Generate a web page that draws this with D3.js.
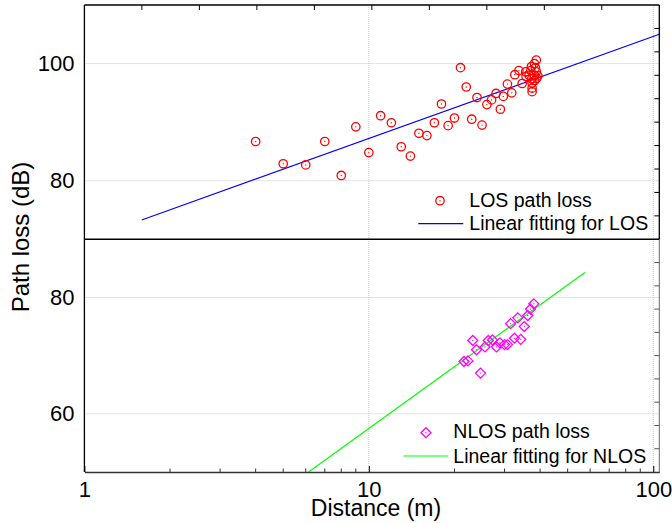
<!DOCTYPE html>
<html>
<head>
<meta charset="utf-8">
<script src="https://cdn.jsdelivr.net/npm/d3@7"></script>
<style>
  body { margin: 0; background: #fff; }
  text { font-family: "Liberation Sans", Arial, sans-serif; fill: #000; }
</style>
</head>
<body>
<div class="chart"></div>
<script>
// LOS measurements (distance m, path loss dB)
var losDist = [4, 5, 6, 7, 8, 9, 10, 11, 12, 13, 14, 15, 16, 17, 18, 19, 20, 21, 22, 23, 24, 25,
               26, 27, 28, 29, 29.7, 30.7, 31.8, 32.6, 33.7, 34.6, 35.6,
               35.7, 36.6, 37.3, 37.1, 37.4, 37.5, 37.5, 37.5, 38.2, 38.5, 38.8, 38.8, 38.2, 39.3, 38.9, 38.3];
var losLoss = [86.7, 82.9, 82.7, 86.7, 80.9, 89.2, 84.8, 91.1, 89.9, 85.8, 84.2, 88.1, 87.7, 89.9, 93.1, 89.4, 90.7, 99.3, 96.0, 90.5, 94.2, 89.5,
               93.0, 93.8, 94.9, 92.2, 94.4, 96.5, 95.0, 98.1, 98.8, 96.6, 98.6,
               97.8, 98.0, 99.5, 98.8, 97.4, 96.7, 95.8, 95.2, 100.0, 99.3, 100.6, 98.6, 98.0, 97.9, 97.5, 97.1];

// NLOS measurements
var nlosDist = [38.0, 37.0, 36.2, 33.4, 31.5, 35.2, 23.2, 32.5, 34.2, 26.3, 27.2, 28.9, 30.0, 30.7, 28.1, 25.6, 23.9, 21.6, 22.3, 24.7];
var nlosLoss = [78.9, 78.0, 76.9, 76.5, 75.5, 75.0, 72.6, 73.0, 72.8, 72.6, 72.7, 72.2, 71.9, 71.9, 71.5, 71.5, 71.0, 69.0, 69.1, 67.0];

// fitted lines, end points
var losFitDist = [1.59, 105];
var losFitLoss = [73.3, 105.0];
var nlosFitDist = [6.14, 57.5];
var nlosFitLoss = [50.0, 84.3];

var xTicks = [1, 10, 100];
var topTicks = [80, 100];
var botTicks = [60, 80];

var W = 672, H = 523;
var pL = 84.4, pR = 659.3, pT = 5, pM = 239.3, pB = 472;

var svg = d3.select(".chart").append("svg")
    .attr("width", W)
    .attr("height", H);

svg.append("rect").attr("width", W).attr("height", H).attr("fill", "#fff");

var x = d3.scaleLog().domain([1, 105]).range([pL, pR]);
var yTop = d3.scaleLinear().domain([70, 110]).range([pM, pT]);
var yBot = d3.scaleLinear().domain([50, 90]).range([pB, pM]);

svg.append("clipPath").attr("id", "clipTop")
    .append("rect").attr("x", pL).attr("y", pT).attr("width", pR - pL).attr("height", pM - pT);
svg.append("clipPath").attr("id", "clipBot")
    .append("rect").attr("x", pL).attr("y", pM).attr("width", pR - pL).attr("height", pB - pM);

var grid = svg.append("g")
    .attr("stroke", "#c8c8c8")
    .attr("stroke-width", 1)
    .attr("stroke-dasharray", "1,1");

grid.selectAll(".vg")
    .data([10, 100])
    .join("line")
    .attr("x1", d => x(d)).attr("x2", d => x(d))
    .attr("y1", pT).attr("y2", pB);

grid.selectAll(".hgt")
    .data(topTicks)
    .join("line")
    .attr("class", "hgt")
    .attr("x1", pL).attr("x2", pR)
    .attr("y1", d => yTop(d)).attr("y2", d => yTop(d));

grid.selectAll(".hgb")
    .data(botTicks)
    .join("line")
    .attr("class", "hgb")
    .attr("x1", pL).attr("x2", pR)
    .attr("y1", d => yBot(d)).attr("y2", d => yBot(d));

// ticks along the top and right edges (10 even divisions, as drawn by Origin)
var topEdge = d3.scaleLinear().domain([0, 10]).range([pL, pR]);
var edgeTicks = svg.append("g").attr("stroke", "#000").attr("stroke-width", 1);
edgeTicks.selectAll(".tt")
    .data(d3.range(1, 10))
    .join("line")
    .attr("class", "tt")
    .attr("x1", d => topEdge(d)).attr("x2", d => topEdge(d))
    .attr("y1", pT).attr("y2", pT + 5);
edgeTicks.selectAll(".rt")
    .data(d3.range(74, 110, 4))
    .join("line")
    .attr("class", "rt")
    .attr("x1", pR - 5).attr("x2", pR)
    .attr("y1", d => yTop(d)).attr("y2", d => yTop(d));
edgeTicks.selectAll(".rb")
    .data(d3.range(54, 90, 4))
    .join("line")
    .attr("class", "rb")
    .attr("stroke", "#555")
    .attr("x1", pR - 5).attr("x2", pR)
    .attr("y1", d => yBot(d)).attr("y2", d => yBot(d));

// fit lines
var line = d3.line();
svg.append("path")
    .attr("clip-path", "url(#clipTop)")
    .attr("d", line(losFitDist.map((d, i) => [x(d), yTop(losFitLoss[i])])))
    .attr("fill", "none")
    .attr("stroke", "#0000ff")
    .attr("stroke-width", 1.2);

svg.append("path")
    .attr("clip-path", "url(#clipBot)")
    .attr("d", line(nlosFitDist.map((d, i) => [x(d), yBot(nlosFitLoss[i])])))
    .attr("fill", "none")
    .attr("stroke", "#00ff00")
    .attr("stroke-width", 1.2);

// LOS points
var losPts = svg.append("g").selectAll("g")
    .data(losDist.map((d, i) => ({d: d, l: losLoss[i]})))
    .join("g")
    .attr("transform", p => "translate(" + x(p.d) + "," + yTop(p.l) + ")");
losPts.append("circle").attr("r", 4.2).attr("fill", "none").attr("stroke", "#ff0000").attr("stroke-width", 1.3);
losPts.append("circle").attr("r", 0.7).attr("fill", "#ff0000");

// NLOS points
var diamond = "M0,-5L5,0L0,5L-5,0Z";
var nlosPts = svg.append("g").selectAll("g")
    .data(nlosDist.map((d, i) => ({d: d, l: nlosLoss[i]})))
    .join("g")
    .attr("transform", p => "translate(" + x(p.d) + "," + yBot(p.l) + ")");
nlosPts.append("path").attr("d", diamond).attr("fill", "none").attr("stroke", "#ff00ff").attr("stroke-width", 1.3);
nlosPts.append("circle").attr("r", 0.7).attr("fill", "#ff00ff");

// frame
svg.append("line").attr("x1", pL).attr("x2", pR).attr("y1", pT).attr("y2", pT)
    .attr("stroke", "#000").attr("stroke-width", 1.3);
svg.append("line").attr("x1", pR).attr("x2", pR).attr("y1", pT).attr("y2", pM)
    .attr("stroke", "#000").attr("stroke-width", 1.3);
svg.append("line").attr("x1", pR).attr("x2", pR).attr("y1", pM).attr("y2", pB)
    .attr("stroke", "#666").attr("stroke-width", 1);
svg.append("line").attr("x1", pL).attr("x2", pL).attr("y1", pT).attr("y2", pB)
    .attr("stroke", "#000").attr("stroke-width", 1.3);
svg.append("line").attr("x1", pL).attr("x2", pR).attr("y1", pM).attr("y2", pM)
    .attr("stroke", "#000").attr("stroke-width", 1.6);

// bottom axis
var xAxis = d3.axisBottom(x)
    .tickValues(xTicks)
    .tickSizeInner(-6)
    .tickSizeOuter(0)
    .tickFormat(d3.format("d"));
var gx = svg.append("g")
    .attr("transform", "translate(0," + pB + ")")
    .call(xAxis);
gx.select(".domain").attr("stroke", "#333").attr("stroke-width", 1.3);
gx.selectAll(".tick text").attr("font-size", 22).attr("dy", "0.95em").attr("y", 4);
gx.selectAll(".minor")
    .data([2, 3, 4, 5, 6, 7, 8, 9, 20, 30, 40, 50, 60, 70, 80, 90])
    .join("line")
    .attr("class", "minor")
    .attr("x1", d => x(d)).attr("x2", d => x(d))
    .attr("y1", 0).attr("y2", -3.5)
    .attr("stroke", "#333");

// left axes
var gyt = svg.append("g")
    .attr("transform", "translate(" + pL + ",0)")
    .call(d3.axisLeft(yTop).tickValues(topTicks).tickSize(0).tickPadding(10));
gyt.select(".domain").remove();
gyt.selectAll(".tick text").attr("font-size", 22);

var gyb = svg.append("g")
    .attr("transform", "translate(" + pL + ",0)")
    .call(d3.axisLeft(yBot).tickValues(botTicks).tickSize(0).tickPadding(10));
gyb.select(".domain").remove();
gyb.selectAll(".tick text").attr("font-size", 22);

// axis titles
svg.append("text")
    .attr("x", 376).attr("y", 516)
    .attr("text-anchor", "middle")
    .attr("font-size", 23)
    .text("Distance (m)");

svg.append("text")
    .attr("transform", "translate(29,237) rotate(-90)")
    .attr("text-anchor", "middle")
    .attr("font-size", 24)
    .text("Path loss (dB)");

// legends
var leg1 = svg.append("g");
leg1.append("circle").attr("cx", 440).attr("cy", 200.7).attr("r", 4.2)
    .attr("fill", "none").attr("stroke", "#ff0000").attr("stroke-width", 1.3);
leg1.append("circle").attr("cx", 440).attr("cy", 200.7).attr("r", 0.7).attr("fill", "#ff0000");
leg1.append("text").attr("x", 469.3).attr("y", 206.7).attr("font-size", 19.5).text("LOS path loss");
leg1.append("line").attr("x1", 418.3).attr("x2", 463.3).attr("y1", 223.7).attr("y2", 223.7)
    .attr("stroke", "#0000ff").attr("stroke-width", 1.2);
leg1.append("text").attr("x", 469.3).attr("y", 230).attr("font-size", 19.5).text("Linear fitting for LOS");

var leg2 = svg.append("g");
leg2.append("path").attr("transform", "translate(426,432.7)").attr("d", diamond)
    .attr("fill", "none").attr("stroke", "#ff00ff").attr("stroke-width", 1.3);
leg2.append("circle").attr("cx", 426).attr("cy", 432.7).attr("r", 0.7).attr("fill", "#ff00ff");
leg2.append("text").attr("x", 453.3).attr("y", 438.3).attr("font-size", 19.5).text("NLOS path loss");
leg2.append("line").attr("x1", 403.3).attr("x2", 448.3).attr("y1", 456).attr("y2", 456)
    .attr("stroke", "#00ff00").attr("stroke-width", 1.2);
leg2.append("text").attr("x", 453.3).attr("y", 463.3).attr("font-size", 19.5).text("Linear fitting for NLOS");
</script>
</body>
</html>
